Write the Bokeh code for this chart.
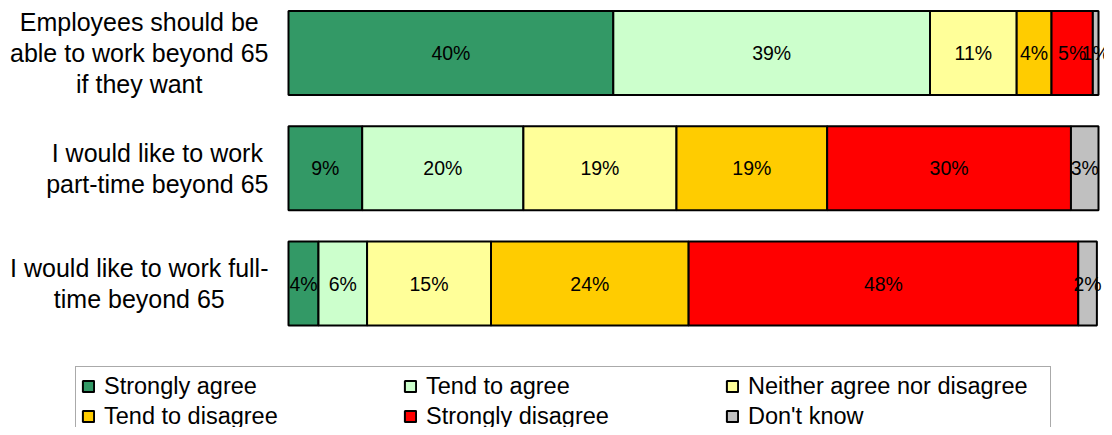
from bokeh.plotting import figure
from bokeh.models import ColumnDataSource, Range1d, Legend, LegendItem
from bokeh.core.properties import value
from bokeh.embed import file_html
from bokeh.resources import INLINE

# ---- data ----
statements = [
    "Employees should be\nable to work beyond 65\nif they want",
    "I would like to work\npart-time beyond 65",
    "I would like to work full-\ntime beyond 65",
]
responses = ["Strongly agree", "Tend to agree", "Neither agree nor disagree",
             "Tend to disagree", "Strongly disagree", "Don't know"]
strongly_agree = [40.1, 9.1, 3.7]
tend_to_agree = [39.1, 19.9, 6.0]
neither = [10.7, 18.9, 15.3]
tend_to_disagree = [4.3, 18.6, 24.4]
strongly_disagree = [5.1, 30.1, 48.1]
dont_know = [0.7, 3.4, 2.3]
colors = ["#339966", "#CCFFCC", "#FFFF99", "#FFCC00", "#FF0000", "#C0C0C0"]

series = [strongly_agree, tend_to_agree, neither, tend_to_disagree,
          strongly_disagree, dont_know]
keys = ["sa", "ta", "ne", "td", "sd", "dk"]
ypos = [2, 1, 0]

FONT = "Liberation Sans"
W, H = 1104, 427
X0 = 288          # pixel of 0 %
PX_PER_UNIT = 8.1
Y0 = 283          # pixel (from top) of bottom bar centre
ROW_PX = 115.25

p = figure(width=W, height=H,
           x_range=Range1d(-X0 / PX_PER_UNIT, (W - X0) / PX_PER_UNIT),
           y_range=Range1d((Y0 - H) / ROW_PX, Y0 / ROW_PX),
           output_backend="svg", toolbar_location=None,
           x_axis_location=None, y_axis_location=None,
           min_border=0, outline_line_color=None)
p.grid.visible = False
p.background_fill_color = "white"

data = dict(y=ypos)
for k, s in zip(keys, series):
    data[k] = s
src = ColumnDataSource(data)
rends = p.hbar_stack(keys, y="y", height=84 / ROW_PX, color=colors, source=src,
                     line_color="black", line_width=2)

# value labels
lx, ly, lt = [], [], []
for i, yv in enumerate(ypos):
    left = 0.0
    for s in series:
        v = s[i]
        lx.append(left + v / 2)
        ly.append(yv)
        lt.append(f"{v:.0f}%")
        left += v
p.text(x=lx, y=ly, text=lt, text_align="center", text_baseline="middle",
       text_font=value(FONT), text_font_size="19.5px", text_color="black")

# category labels
p.text(x=[0] * 3, y=ypos, text=statements, x_offset=-20,
       text_align="center", text_baseline="middle", anchor=value("center_right"),
       text_font=value(FONT), text_font_size="25px", text_line_height=1.1,
       text_color="black")

legend = Legend(
    items=[LegendItem(label=r, renderers=[rd]) for r, rd in zip(responses, rends)],
    location=(75, H - 368 - 68), orientation="horizontal", ncols=3,
    label_text_font=FONT, label_text_font_size="23.5px", label_text_color="black",
    glyph_width=14, glyph_height=14, label_standoff=9,
    label_width=297, label_height=28, spacing=2, padding=5, margin=0,
    border_line_color="#555555", border_line_width=1,
    background_fill_color="white", background_fill_alpha=1.0,
)
p.add_layout(legend, "center")

open("out.html", "w").write(file_html(p, INLINE))
